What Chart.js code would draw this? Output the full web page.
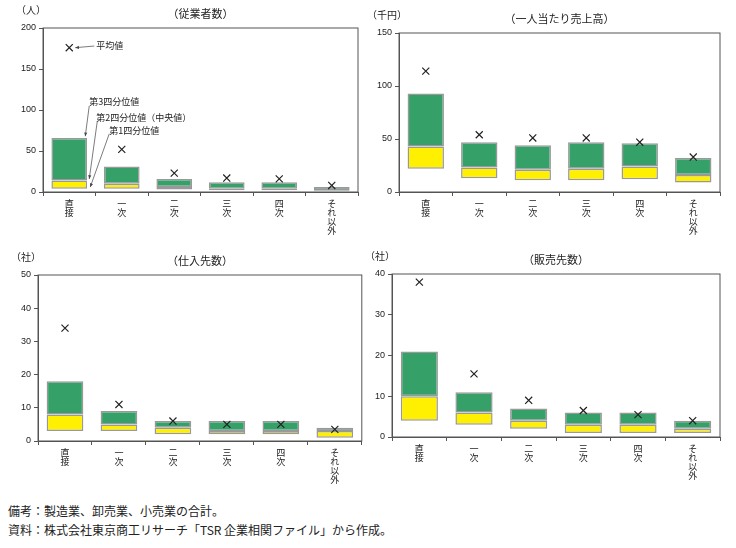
<!DOCTYPE html>
<html><head><meta charset="utf-8">
<script src="https://cdn.jsdelivr.net/npm/chart.js@4"></script>
<style>
body{margin:0;background:#fff;font-family:"Noto Sans CJK JP",sans-serif;}
.box{position:absolute;}
.note{position:absolute;left:8px;font-size:12px;color:#222;}
</style></head><body>
<div class="box" style="left:0;top:0;width:368px;height:250px"><canvas id="c1"></canvas></div>
<div class="box" style="left:368px;top:0;width:368px;height:250px"><canvas id="c2"></canvas></div>
<div class="box" style="left:0;top:250px;width:368px;height:237px"><canvas id="c3"></canvas></div>
<div class="box" style="left:368px;top:250px;width:368px;height:233px"><canvas id="c4"></canvas></div>
<div class="note" style="top:502px">備考：製造業、卸売業、小売業の合計。</div>
<div class="note" style="top:521px">資料：株式会社東京商工リサーチ「TSR 企業相関ファイル」から作成。</div>
<script>
const categories = ['直接', '一次', '二次', '三次', '四次', 'それ以外'];

// 従業者数
const empQ1 = [4, 4, 3, 2, 2, 1];
const empMed = [14, 10, 6, 4, 4, 2];
const empQ3 = [66, 31, 16, 12, 12, 6];
const empMean = [176, 52, 23, 17, 16, 8];

// 一人当たり売上高
const salesQ1 = [22, 13, 11, 11, 12, 9];
const salesMed = [43, 23, 21, 22, 24, 16];
const salesQ3 = [93, 47, 44, 47, 46, 32];
const salesMean = [114, 54, 51, 51, 47, 33];

// 仕入先数
const supQ1 = [3, 3, 2, 2, 2, 1];
const supMed = [8, 5, 4, 3, 3, 3];
const supQ3 = [18, 9, 6, 6, 6, 4];
const supMean = [34, 11, 6, 5, 5, 3.5];

// 販売先数
const custQ1 = [4, 3, 2, 1, 1, 1];
const custMed = [10, 6, 4, 3, 3, 2];
const custQ3 = [21, 11, 7, 6, 6, 4];
const custMean = [38, 15.5, 9, 6.5, 5.5, 4];

const labelsV = categories.map(c => c.split(''));

const frame = {
  id: 'frame',
  afterDraw(chart, args, opts) {
    const {ctx, chartArea: a} = chart;
    ctx.save();
    ctx.strokeStyle = '#555'; ctx.lineWidth = 1;
    ctx.strokeRect(a.left, a.top, a.right - a.left, a.bottom - a.top);
    ctx.fillStyle = '#222'; ctx.font = '10px "Noto Sans CJK JP"';
    ctx.textAlign = 'center';
    ctx.fillText(opts.unit, a.left - 12, a.top - 14);
    ctx.font = '11px "Noto Sans CJK JP"';
    ctx.fillText(opts.title, (a.left + a.right) / 2, a.top - 10);
    if (opts.notes) {
      const x = chart.scales.x, y = chart.scales.y;
      ctx.textAlign = 'left'; ctx.font = '9px "Noto Sans CJK JP"';
      ctx.strokeStyle = '#444'; ctx.lineWidth = 0.7;
      const arrow = (x1, y1, x2, y2) => {
        ctx.beginPath(); ctx.moveTo(x1, y1); ctx.lineTo(x2, y2); ctx.stroke();
        const ang = Math.atan2(y2 - y1, x2 - x1);
        ctx.beginPath(); ctx.moveTo(x2, y2);
        ctx.lineTo(x2 - 4 * Math.cos(ang - 0.4), y2 - 4 * Math.sin(ang - 0.4));
        ctx.lineTo(x2 - 4 * Math.cos(ang + 0.4), y2 - 4 * Math.sin(ang + 0.4));
        ctx.closePath(); ctx.fillStyle = '#444'; ctx.fill();
      };
      const x0 = x.getPixelForValue(0);
      ctx.fillStyle = '#222';
      ctx.fillText('平均値', x0 + 27, y.getPixelForValue(178) + 3);
      arrow(x0 + 25, y.getPixelForValue(178), x0 + 6, y.getPixelForValue(176));
      ctx.fillStyle = '#222';
      ctx.fillText('第3四分位値', x0 + 20, y.getPixelForValue(110) + 3);
      ctx.fillText('第2四分位値（中央値）', x0 + 27, y.getPixelForValue(90) + 3);
      ctx.fillText('第1四分位値', x0 + 40, y.getPixelForValue(75) + 3);
      arrow(x0 + 20, y.getPixelForValue(105), x0 + 16, y.getPixelForValue(68));
      arrow(x0 + 28, y.getPixelForValue(86), x0 + 20, y.getPixelForValue(16));
      arrow(x0 + 40, y.getPixelForValue(71), x0 + 21, y.getPixelForValue(6));
    }
    ctx.restore();
  }
};

function makeChart(id, q1, med, q3, mean, max, step, unit, title, pad, notes) {
  new Chart(document.getElementById(id), {
    data: {
      labels: labelsV,
      datasets: [
        {type: 'scatter', data: mean.map((v, i) => ({x: labelsV[i], y: v})),
         pointStyle: 'crossRot', pointRadius: 5, borderColor: '#222', borderWidth: 1.2},
        {type: 'bar', data: q1.map((v, i) => [v, med[i]]), backgroundColor: '#ffef00',
         borderColor: '#999', borderWidth: 1.5, borderSkipped: false, grouped: false,
         categoryPercentage: 1, barPercentage: 0.68},
        {type: 'bar', data: med.map((v, i) => [v, q3[i]]), backgroundColor: '#35a067',
         borderColor: '#999', borderWidth: 1.5, borderSkipped: false, grouped: false,
         categoryPercentage: 1, barPercentage: 0.68}
      ]
    },
    options: {
      responsive: true, maintainAspectRatio: false, animation: false,
      layout: {padding: pad},
      plugins: {legend: {display: false}, tooltip: {enabled: false},
        frame: {unit, title, notes}},
      scales: {
        x: {type: 'category', offset: true,
          grid: {offset: true, drawOnChartArea: false, tickLength: 4, color: '#555'},
          border: {color: '#555'},
          ticks: {font: {size: 9, family: '"Noto Sans CJK JP"', lineHeight: 1.0}, color: '#222',
            maxRotation: 0, autoSkip: false}},
        y: {min: 0, max, grid: {drawOnChartArea: false, tickLength: 4, color: '#555'},
          border: {color: '#555'},
          ticks: {stepSize: step, font: {size: 9}, color: '#222'}}
      }
    },
    plugins: [frame]
  });
}

makeChart('c1', empQ1, empMed, empQ3, empMean, 200, 50, '（人）', '（従業者数）', {top: 28, right: 10, left: 18, bottom: 12}, true);
makeChart('c2', salesQ1, salesMed, salesQ3, salesMean, 150, 50, '（千円）', '（一人当たり売上高）', {top: 33, right: 16, left: 6, bottom: 12}, false);
makeChart('c3', supQ1, supMed, supQ3, supMean, 50, 10, '（社）', '（仕入先数）', {top: 25, right: 3, left: 18, bottom: 0}, false);
makeChart('c4', custQ1, custMed, custQ3, custMean, 40, 10, '（社）', '（販売先数）', {top: 24, right: 16, left: 4, bottom: 0}, false);
</script>
</body></html>
